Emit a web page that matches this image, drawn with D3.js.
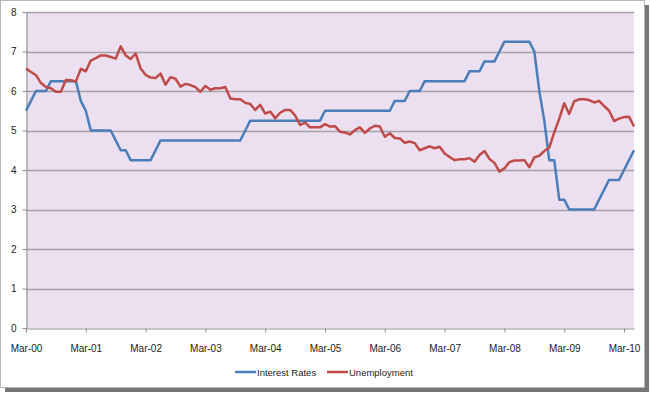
<!DOCTYPE html>
<html>
<head>
<meta charset="utf-8">
<script src="https://cdn.jsdelivr.net/npm/d3@7"></script>
<style>
  body { margin: 0; background: #fff; }
  svg { display: block; font-family: "Liberation Sans", Arial, sans-serif; }
</style>
</head>
<body>
<svg width="651" height="394"></svg>
<script>
// monthly values, Mar-00 .. May-10
var interestRates = [
  5.5, 5.75, 6, 6, 6, 6.25, 6.25, 6.25, 6.25, 6.25, 6.25, 5.75,
  5.5, 5, 5, 5, 5, 5, 4.75, 4.5, 4.5, 4.25, 4.25, 4.25,
  4.25, 4.25, 4.5, 4.75, 4.75, 4.75, 4.75, 4.75, 4.75, 4.75, 4.75, 4.75,
  4.75, 4.75, 4.75, 4.75, 4.75, 4.75, 4.75, 4.75, 5, 5.25, 5.25, 5.25,
  5.25, 5.25, 5.25, 5.25, 5.25, 5.25, 5.25, 5.25, 5.25, 5.25, 5.25, 5.25,
  5.5, 5.5, 5.5, 5.5, 5.5, 5.5, 5.5, 5.5, 5.5, 5.5, 5.5, 5.5,
  5.5, 5.5, 5.75, 5.75, 5.75, 6, 6, 6, 6.25, 6.25, 6.25, 6.25,
  6.25, 6.25, 6.25, 6.25, 6.25, 6.5, 6.5, 6.5, 6.75, 6.75, 6.75, 7,
  7.25, 7.25, 7.25, 7.25, 7.25, 7.25, 7, 6, 5.25, 4.25, 4.25, 3.25,
  3.25, 3, 3, 3, 3, 3, 3, 3.25, 3.5, 3.75, 3.75, 3.75,
  4, 4.25, 4.5
];
var unemployment = [
  6.57, 6.48, 6.4, 6.2, 6.1, 6.07, 5.98, 5.98, 6.28, 6.27, 6.24, 6.56,
  6.5, 6.77, 6.83, 6.9, 6.9, 6.86, 6.82, 7.13, 6.9, 6.81, 6.95, 6.57,
  6.41, 6.34, 6.33, 6.44, 6.16, 6.35, 6.31, 6.11, 6.18, 6.15, 6.1, 5.98,
  6.13, 6.03, 6.07, 6.07, 6.1, 5.81, 5.79, 5.79, 5.7, 5.67, 5.52, 5.65,
  5.43, 5.48, 5.31, 5.45, 5.52, 5.52, 5.38, 5.14, 5.2, 5.08, 5.08, 5.08,
  5.16, 5.1, 5.11, 4.97, 4.95, 4.9, 5.01, 5.08, 4.94, 5.05, 5.12, 5.1,
  4.84, 4.93, 4.81, 4.8, 4.69, 4.72, 4.68, 4.5, 4.55, 4.6, 4.55, 4.59,
  4.42, 4.33, 4.25, 4.27, 4.27, 4.3, 4.21, 4.38, 4.48, 4.28, 4.18, 3.96,
  4.04, 4.2, 4.24, 4.24, 4.25, 4.07, 4.32, 4.36, 4.48, 4.57, 4.95, 5.3,
  5.69, 5.42, 5.74, 5.79, 5.79, 5.77, 5.71, 5.75, 5.62, 5.5, 5.24, 5.3,
  5.34, 5.35, 5.1
];
var xTickLabels = ["Mar-00", "Mar-01", "Mar-02", "Mar-03", "Mar-04", "Mar-05",
  "Mar-06", "Mar-07", "Mar-08", "Mar-09", "Mar-10"];
var yTicks = [0, 1, 2, 3, 4, 5, 6, 7, 8];
var seriesNames = ["Interest Rates", "Unemployment"];
var colors = ["#4A7EBB", "#BE4B48"];

var svg = d3.select("svg");

// outer frame + shadow
svg.append("rect").attr("x", 645).attr("y", 5).attr("width", 4).attr("height", 387).attr("fill", "#777");
svg.append("rect").attr("x", 5).attr("y", 388).attr("width", 644).attr("height", 4).attr("fill", "#777");
svg.append("rect").attr("x", 0.5).attr("y", 0.5).attr("width", 644).attr("height", 387)
  .attr("fill", "#fff").attr("stroke", "#b8b8b8");

var plotLeft = 26, plotRight = 634, plotTop = 12, plotBottom = 328;

var x = d3.scaleLinear().domain([0, unemployment.length - 1]).range([plotLeft, plotRight]);
var y = d3.scaleLinear().domain([0, 8]).range([plotBottom, plotTop]);

svg.append("rect").attr("x", plotLeft).attr("y", plotTop)
  .attr("width", plotRight - plotLeft).attr("height", plotBottom - plotTop)
  .attr("fill", "#ECE0F0");

// gridlines
svg.append("g").selectAll("line").data(yTicks.slice(1)).enter().append("line")
  .attr("x1", plotLeft).attr("x2", plotRight)
  .attr("y1", function(d) { return Math.round(y(d)) + 0.5; })
  .attr("y2", function(d) { return Math.round(y(d)) + 0.5; })
  .attr("stroke", "#a3a0a6").attr("stroke-width", 1.3);

// y axis
var yAxis = svg.append("g").attr("transform", "translate(" + (plotLeft + 0.5) + ",0)")
  .call(d3.axisLeft(y).tickValues(yTicks).tickSize(4).tickSizeOuter(0).tickPadding(6)
    .tickFormat(d3.format("d")));
yAxis.select(".domain").attr("stroke", "#8c8c8c");
yAxis.selectAll(".tick line").attr("stroke", "#8c8c8c");
yAxis.selectAll("text").attr("font-size", 10).attr("fill", "#222");

// x axis
var xAxis = svg.append("g").attr("transform", "translate(0," + (plotBottom + 0.5) + ")")
  .call(d3.axisBottom(x).tickValues(d3.range(0, unemployment.length, 12))
    .tickSize(4).tickSizeOuter(0).tickPadding(12)
    .tickFormat(function(d, i) { return xTickLabels[i]; }));
xAxis.select(".domain").attr("stroke", "#8c8c8c");
xAxis.selectAll(".tick line").attr("stroke", "#8c8c8c");
xAxis.selectAll("text").attr("font-size", 10).attr("fill", "#222");

// lines
var line = d3.line()
  .x(function(d, i) { return x(i); })
  .y(function(d) { return y(d); });

[interestRates, unemployment].forEach(function(s, k) {
  svg.append("path").datum(s)
    .attr("d", line)
    .attr("fill", "none")
    .attr("stroke", colors[k])
    .attr("stroke-width", 2.5)
    .attr("stroke-linejoin", "round");
});

// legend
var legendX = [235, 327];
var legend = svg.append("g").selectAll("g").data(seriesNames).enter().append("g")
  .attr("transform", function(d, i) { return "translate(" + legendX[i] + ",372)"; });
legend.append("line").attr("x1", 0).attr("x2", 21).attr("y1", 0).attr("y2", 0)
  .attr("stroke", function(d, i) { return colors[i]; }).attr("stroke-width", 2.5);
legend.append("text").attr("x", 22).attr("y", 3.5)
  .attr("font-size", 9.5).attr("fill", "#222")
  .text(function(d) { return d; });
</script>
</body>
</html>
